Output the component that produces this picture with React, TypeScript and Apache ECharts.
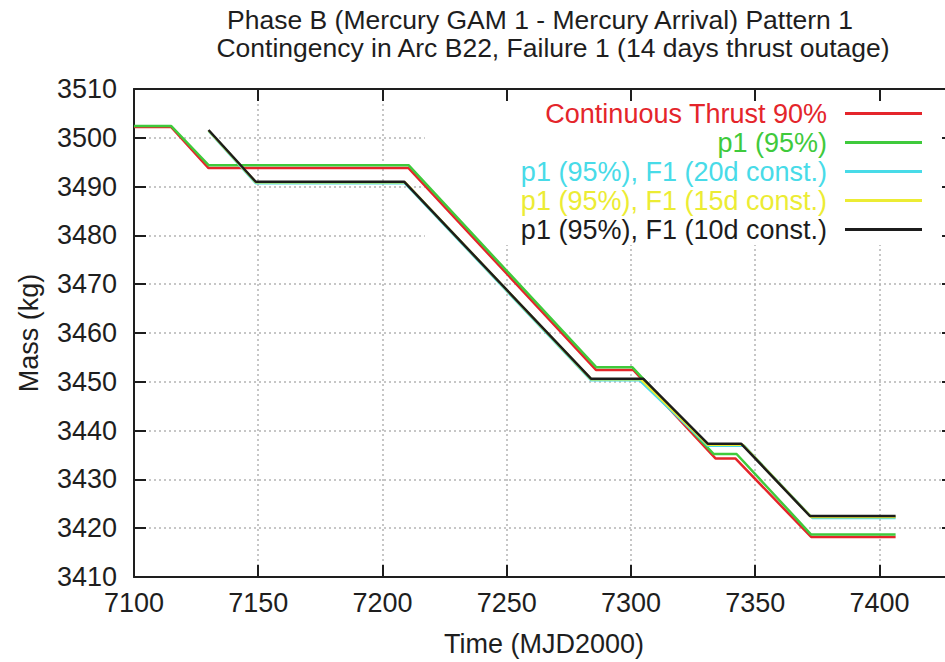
import React, { useEffect, useRef } from "react";
import * as echarts from "echarts";

const TITLE_LINE_1 = "Phase B (Mercury GAM 1 - Mercury Arrival) Pattern 1";
const TITLE_LINE_2 = "Contingency in Arc B22, Failure 1 (14 days thrust outage)";
const X_NAME = "Time (MJD2000)";
const Y_NAME = "Mass (kg)";

const X_MIN = 7100;
const X_MAX = 7430;
const X_STEP = 50;
const Y_MIN = 3410;
const Y_MAX = 3510;
const Y_STEP = 10;

const SERIES_NAMES = [
  "Continuous Thrust 90%",
  "p1 (95%)",
  "p1 (95%), F1 (20d const.)",
  "p1 (95%), F1 (15d const.)",
  "p1 (95%), F1 (10d const.)",
];
const SERIES_COLORS = ["#e4252b", "#3fca3c", "#48dbe8", "#ecec34", "#1c1c1c"];

const RED_X = [7100, 7115, 7130, 7210.5, 7286, 7301, 7334, 7342, 7372.5, 7406.5];
const RED_Y = [3502.2, 3502.2, 3493.8, 3493.8, 3452.4, 3452.4, 3434.3, 3434.3, 3418.2, 3418.2];

const GREEN_X = [7100, 7115, 7130, 7210.5, 7286, 7300.5, 7333.3, 7342.5, 7372.5, 7406.5];
const GREEN_Y = [3502.4, 3502.4, 3494.4, 3494.4, 3453, 3453, 3435.2, 3435.2, 3418.7, 3418.7];

const CYAN_X = [7130, 7149, 7209, 7284, 7303.5, 7331, 7345.5, 7373, 7406.5];
const CYAN_Y = [3501.4, 3490.7, 3490.7, 3450.3, 3450.3, 3436.9, 3436.9, 3422.1, 3422.1];

const YELLOW_X = [7130, 7149, 7209, 7284, 7304, 7331, 7345, 7372.5, 7406.5];
const YELLOW_Y = [3501.5, 3490.9, 3490.9, 3450.5, 3450.5, 3437.1, 3437.1, 3422.3, 3422.3];

const BLACK_X = [7130, 7149, 7208.7, 7284, 7305, 7331, 7344.4, 7372, 7406.5];
const BLACK_Y = [3501.6, 3491, 3491, 3450.6, 3450.6, 3437.3, 3437.3, 3422.5, 3422.5];

const SERIES_X = [RED_X, GREEN_X, CYAN_X, YELLOW_X, BLACK_X];
const SERIES_Y = [RED_Y, GREEN_Y, CYAN_Y, YELLOW_Y, BLACK_Y];

const FONT = "'Liberation Sans', Arial, Helvetica, sans-serif";
const INK = "#1e1e1e";

export default function App() {
  const ref = useRef<HTMLDivElement>(null);

  useEffect(() => {
    if (!ref.current) return;
    const chart = echarts.init(ref.current, undefined, { renderer: "svg" });

    const axisLine = { show: true, onZero: false, lineStyle: { color: INK, width: 2 } };
    const axisTick = { show: true, inside: true, length: 12, lineStyle: { color: INK, width: 2 } };
    const splitLine = { show: true, lineStyle: { color: "#b4b4b4", width: 1.5, type: [2, 3] } };
    const label = { fontSize: 27, color: INK, fontFamily: FONT };
    const plain = (v: number) => String(v);

    const series = SERIES_NAMES.map((name, i) => ({
      name,
      type: "line",
      data: SERIES_X[i].map((x, j) => [x, SERIES_Y[i][j]]),
      showSymbol: false,
      symbol: "none",
      color: SERIES_COLORS[i],
      lineStyle: { color: SERIES_COLORS[i], width: 2.5 },
      xAxisIndex: 0,
      yAxisIndex: 0,
      z: 3,
    }));

    const titleStyle = { fontSize: 26.5, fontWeight: "normal", color: INK, fontFamily: FONT, lineHeight: 26 };

    chart.setOption({
      animation: false,
      backgroundColor: "#ffffff",
      title: [
        { text: TITLE_LINE_1, left: 540, top: 7, padding: 0, textAlign: "center", textStyle: titleStyle },
        { text: TITLE_LINE_2, left: 553, top: 35, padding: 0, textAlign: "center", textStyle: titleStyle },
      ],
      grid: { left: 134, top: 89, right: 0, bottom: 84, containLabel: false },
      legend: {
        orient: "vertical",
        right: 0,
        top: 91,
        align: "right",
        icon: "rect",
        itemWidth: 77,
        itemHeight: 3,
        itemGap: 2,
        padding: [9, 32, 2, 96],
        backgroundColor: "#ffffff",
        selectedMode: false,
        z: 1,
        textStyle: { fontSize: 27, lineHeight: 25, fontFamily: FONT, padding: [0, 13, 0, 0] },
        data: SERIES_NAMES.map((name, i) => ({ name, textStyle: { color: SERIES_COLORS[i] } })),
      },
      xAxis: [
        {
          type: "value",
          position: "bottom",
          min: X_MIN,
          max: X_MAX,
          interval: X_STEP,
          name: X_NAME,
          nameLocation: "middle",
          nameGap: 53,
          nameTextStyle: { ...label },
          axisLine,
          axisTick,
          axisLabel: { ...label, margin: 12, showMaxLabel: false, formatter: plain },
          splitLine,
          z: 0,
        },
        {
          type: "value",
          position: "top",
          min: X_MIN,
          max: X_MAX,
          interval: X_STEP,
          axisLine,
          axisTick,
          axisLabel: { show: false },
          splitLine: { show: false },
          z: 6,
        },
      ],
      yAxis: [
        {
          type: "value",
          position: "left",
          min: Y_MIN,
          max: Y_MAX,
          interval: Y_STEP,
          name: Y_NAME,
          nameLocation: "middle",
          nameGap: 92,
          nameTextStyle: { ...label },
          axisLine,
          axisTick,
          axisLabel: { ...label, margin: 17, formatter: plain },
          splitLine,
          z: 0,
        },
        {
          type: "value",
          position: "right",
          min: Y_MIN,
          max: Y_MAX,
          interval: Y_STEP,
          axisLine,
          axisTick,
          axisLabel: { show: false },
          splitLine: { show: false },
          z: 6,
        },
      ],
      series,
    });

    return () => chart.dispose();
  }, []);

  return (
    <div
      style={{
        position: "absolute",
        left: 0,
        top: 0,
        width: 945,
        height: 662,
        overflow: "hidden",
        background: "#fff",
      }}
    >
      <div ref={ref} style={{ width: 954, height: 662 }} />
    </div>
  );
}
